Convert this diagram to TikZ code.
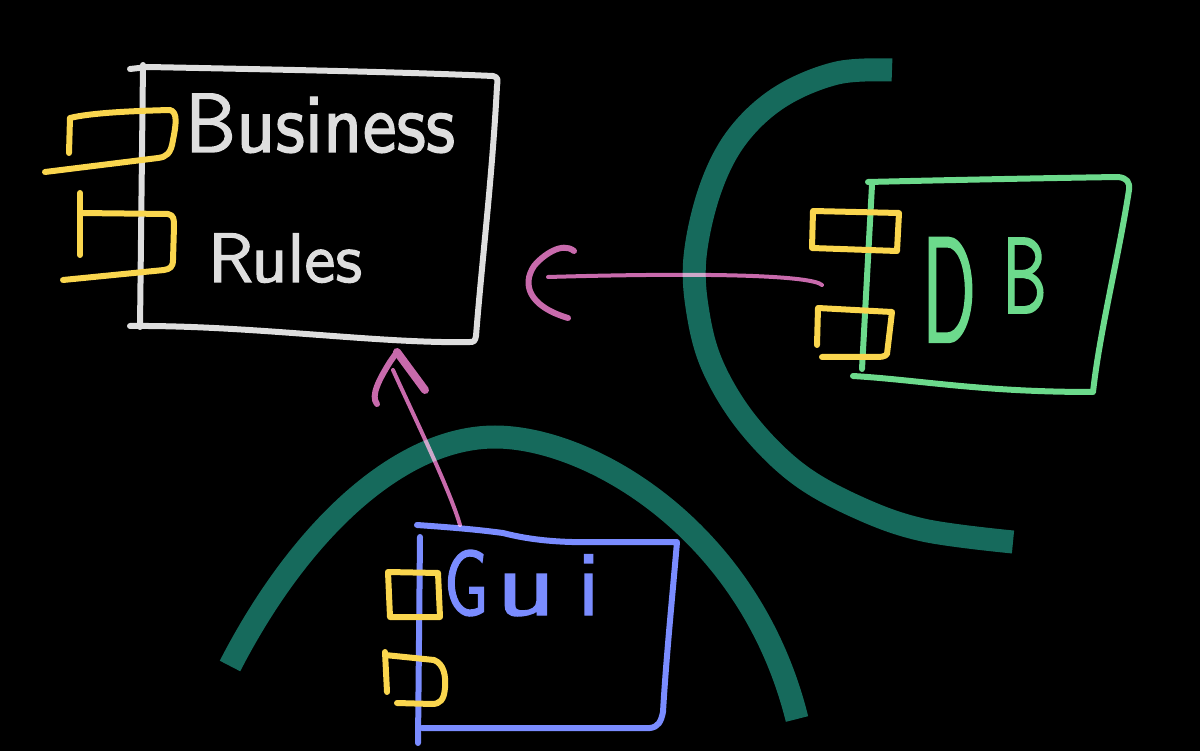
\documentclass[tikz,border=0pt]{standalone}
\usepackage{graphicx}
\usepackage{fontspec}
\newfontfamily\handfont{lmsans10-regular.otf}[FakeBold=1.6]
\definecolor{bgteal}{RGB}{22,106,92}
\definecolor{penwhite}{RGB}{222,222,222}
\definecolor{penyellow}{RGB}{250,214,78}
\definecolor{pengreen}{RGB}{108,218,140}
\definecolor{penblue}{RGB}{122,140,255}
\definecolor{penpink}{RGB}{200,106,172}
\tikzset{
  pen/.style={line width=6pt, line cap=round, line join=round},
  tealband/.style={draw=bgteal, line width=23pt, line cap=butt},
  wbox/.style={pen, draw=penwhite},
  ybox/.style={pen, draw=penyellow},
  gbox/.style={pen, draw=pengreen},
  bbox/.style={pen, draw=penblue},
  pinkline/.style={draw=penpink, line width=4pt, line cap=round},
  pinkhead/.style={draw=penpink, line width=6pt, line cap=round, line join=round},
  hand/.style={inner sep=0pt, outer sep=0pt, anchor=base west, font=\handfont},
}
\begin{document}
\begin{tikzpicture}[x=1pt,y=-1pt]
\fill[black] (0,0) rectangle (1200,751);
\useasboundingbox (0,0) rectangle (1200,751);

% ---- teal boundary arcs ----
\draw[tealband] plot[smooth, tension=0.6] coordinates {
  (892,70) (837,73) (780,97) (737,137) (710,190) (695,257) (698,313)
  (713,367) (747,423) (797,473) (857,507) (923,530) (1013,542)};
\draw[tealband] (230,666) .. controls (300,530) and (400,437) .. (495,437)
  .. controls (590,437) and (750,530) .. (797,719);

% ---- Business Rules component ----
\draw[wbox] (143,65) -- (140,327);
\draw[wbox] (130,69) -- (148,67) .. controls (300,70) and (400,72) .. (493,76)
  .. controls (498,77) and (498,80) .. (497,86)
  .. controls (492,180) and (482,260) .. (476,336)
  .. controls (475,341) and (474,342) .. (470,342);
\draw[wbox] (130,326) .. controls (250,325) and (380,344) .. (470,342);
\node[hand, text=penwhite] (business) at (185,152)
  {\scalebox{0.91}[1]{\fontsize{84}{84}\selectfont Business}};
\node[hand, text=penwhite] (rules) at (208,282)
  {\fontsize{70}{70}\selectfont Rules};
% ports
\draw[ybox] (69,153) -- (70,118) .. controls (90,113) and (130,111) .. (170,110)
  .. controls (178,112) and (176,125) .. (173,140)
  .. controls (171,154) and (166,157) .. (158,158) -- (45,172);
\draw[ybox] (80,193) -- (80,255);
\draw[ybox] (80,213) -- (168,214) .. controls (174,215) and (174,220) .. (174,226)
  -- (173,260) .. controls (173,267) and (170,269) .. (164,270) -- (63,280);

% ---- DB component ----
\draw[gbox] (872,185) -- (862,369);
\draw[gbox] (868,182) .. controls (950,180) and (1050,178) .. (1118,177)
  .. controls (1127,178) and (1130,182) .. (1129,190)
  .. controls (1118,260) and (1100,330) .. (1093,392);
\draw[gbox] (853,376) .. controls (920,380) and (980,392) .. (1092,392);
\draw[ybox] (812,248) -- (813,211) -- (899,213) -- (897,251) -- cycle;
\draw[ybox] (817,345) -- (818,308) -- (892,312) -- (887,354) .. controls (885,357) and (880,357) .. (876,357) -- (822,357);
\node[hand, text=pengreen] (db) at (922,342)
  {\scalebox{0.5}[1]{\fontsize{150}{150}\selectfont D}\hspace{26pt}%
   \raisebox{29pt}{\scalebox{0.62}[1]{\fontsize{108}{108}\selectfont B}}};

% ---- Gui component ----
\draw[bbox] (417,525) .. controls (460,528) and (480,530) .. (503,533)
  .. controls (530,540) and (560,543) .. (600,542) -- (677,542)
  .. controls (672,600) and (666,660) .. (663,712)
  .. controls (661,722) and (658,727) .. (650,728)
  -- (422,728);
\draw[bbox] (420,537) -- (418,743);
\node[hand, text=penblue] (gui) at (444,615)
  {\fontsize{92}{92}\selectfont \scalebox{0.72}[1]{G}\hspace{8pt}\scalebox{1.25}[1]{u}\hspace{22pt}i};
\draw[ybox] (388,572) -- (438,573) -- (440,617) -- (390,617) -- cycle;
\draw[ybox] (385,652) -- (387,692);
\draw[ybox] (385,655) -- (434,660) .. controls (444,664) and (446,676) .. (445,688)
  .. controls (444,700) and (440,704) .. (432,704) -- (397,703);

% ---- connectors ----
\coordinate (dbout) at (822,285);
\coordinate (brin) at (548,277);
\coordinate (guiout) at (460,525);
\coordinate (brbottom) at (393,370);
\begin{scope}[blend mode=screen]
\draw[pinkline] (dbout) .. controls (812,276) and (720,272) .. (brin);
\draw[pinkline] (guiout) .. controls (450,490) and (412,412) .. (brbottom);
\end{scope}
\draw[pinkhead] (574,251) .. controls (562,241) and (542,256) .. (534,266)
  .. controls (522,284) and (528,306) .. (568,318);
\draw[pinkhead] (377,404) .. controls (370,396) and (380,378) .. (390,362) -- (397,352);
\draw[pinkhead, line width=8pt] (397,352) -- (425,390);
\end{tikzpicture}
\end{document}
